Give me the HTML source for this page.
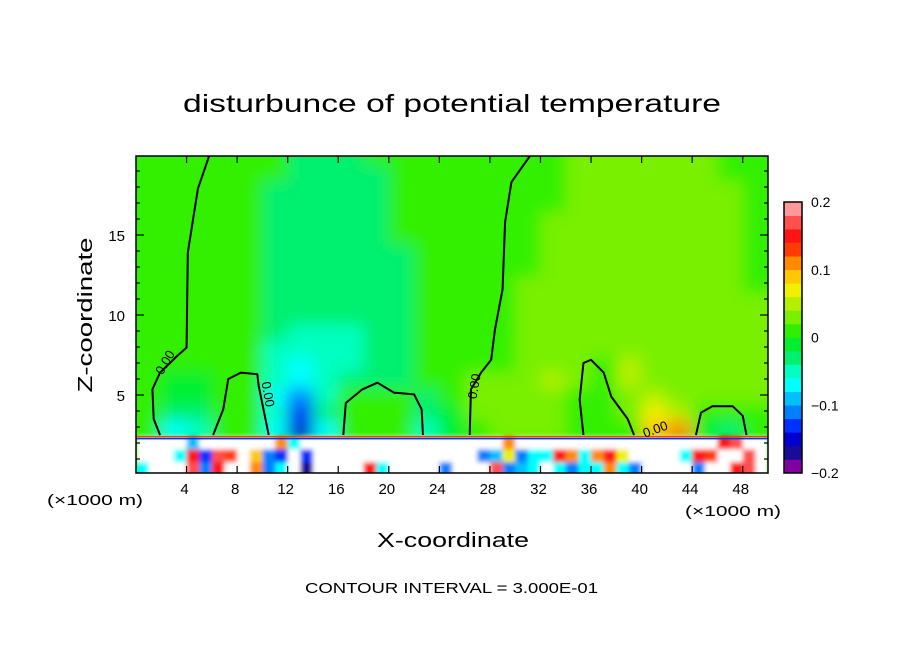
<!DOCTYPE html>
<html><head><meta charset="utf-8">
<style>
html,body{margin:0;padding:0;background:#fff;}
svg{display:block;font-family:"Liberation Sans",sans-serif;}
</style></head>
<body>
<svg id="chart" width="904" height="654" viewBox="0 0 904 654" xmlns="http://www.w3.org/2000/svg">
<defs>
<clipPath id="plotclip"><rect x="136" y="156" width="632" height="317"/></clipPath>
<filter id="smooth" x="-5%" y="-5%" width="110%" height="110%"><feGaussianBlur stdDeviation="8"/></filter>
<filter id="smooth2"><feGaussianBlur stdDeviation="2.5"/></filter>
</defs>
<text x="452" y="112" text-anchor="middle" font-size="25" textLength="538" lengthAdjust="spacingAndGlyphs">disturbunce of potential temperature</text>
<g id="plot" clip-path="url(#plotclip)"></g>
<g id="contours" clip-path="url(#plotclip)"></g>
<rect x="136" y="156" width="632" height="317" fill="none" stroke="#000" stroke-width="1.5"/>
<g id="axes"></g>
<g id="cbar"></g>
<text transform="translate(92,315) rotate(-90)" text-anchor="middle" font-size="20" textLength="155" lengthAdjust="spacingAndGlyphs">Z-coordinate</text>
<text x="453" y="547" text-anchor="middle" font-size="20" textLength="152" lengthAdjust="spacingAndGlyphs">X-coordinate</text>
<text x="47" y="505" font-size="15" textLength="96" lengthAdjust="spacingAndGlyphs">(×1000 m)</text>
<text x="685" y="516" font-size="15" textLength="96" lengthAdjust="spacingAndGlyphs">(×1000 m)</text>
<text x="305" y="593" font-size="15" textLength="293" lengthAdjust="spacingAndGlyphs">CONTOUR INTERVAL = 3.000E-01</text>
</svg>
<script>
// ---- data ----
const colorLevels = ["#8000a0","#1a0a98","#0000d0","#0030ff","#0080ff","#00c0ff","#00ffff","#00ffc0","#00f070","#00f030","#30f000","#78f000","#b4f000","#f0f000","#ffc800","#ff8c00","#ff3c00","#ff1414","#ff5050","#ff9898"];
const cbarTicks = [0.2, 0.1, 0, -0.1, -0.2];
const cbarTickLabels = ["0.2","0.1","0","\u22120.1","\u22120.2"];
const xTicks = [4,8,12,16,20,24,28,32,36,40,44,48];
const yTicks = [5,10,15];
// upper field: 25 columns (2 km), rows of 1 km; codes = colour level index (0-9,a-j)
const upperX0 = 0, upperDx = 2, upperZTop = 20.4, upperDz = 1;
const upperRows = [
"aaaaaa888aaaaaaaabbbbbbaa",
"aaaaaa8888aaaaaaabbbbbbaa",
"aaaaa88888aaaaaaabbbbbbba",
"aaaaa88888aaaaaaabbbbbbba",
"aaaaa88888aaaaaabbbbbbbba",
"aaaaa88888aaaaaabbbbbbbba",
"aaaaa888888aaaaabbbbbbbba",
"aaaaa888888aaaaabbbbbbbba",
"aaaaa888888aaaabbbbbbbbba",
"aaaaa888888aaaabbbbbbbbbb",
"aaaaa888888aaaabbbbbbbbbb",
"aaaaa877788aaaabbbbbbbbbb",
"aaaaa777788aaaabbbbbbbbbb",
"aaaaa767788aaaabbbacbbbbb",
"a99aa767888aabbbcbacbbbbb",
"a99aa647aaa8abbbbaabcbbbb",
"a88aa738aaa89bbbbaabdcaaa",
"a67aa626aaa79abbbaaaef98a"
];
// lower field: 50 columns (1 km), 3 rows of 0.8 km; 'w' = outside colour range (white)
const lowerX0 = 0, lowerDx = 1, lowerZTop = 2.4, lowerDz = 0.8;
const lowerRows = [
"wwww5wwwwwwf6wwwwwwwwwwwwwwwwfwwwwwwwwwwwwwwwwhiww",
"www6h3igwe43w3wwwwwwwwwwwww45d466hf6fhdwwww6hgwwiw",
"6wwwi4hwwf46w1wwwwh6wwww4wwwi456w6466f64wwww4wwhiw"
];
// zero contours (x km, z km)
const c1x=[5.9,4.9,4.1,4.0,3.2,1.9,1.3,1.4,1.9], c1z=[20.2,17.9,13.9,7.96,7.4,6.4,5.35,3.5,2.5];
const c2x=[6.1,6.9,7.3,8.3,9.6,9.7,10.5], c2z=[2.5,4.1,6.0,6.4,6.3,5.6,2.5];
const c3x=[16.4,16.6,17.9,19.1,20.4,22.0,22.6,22.7], c3z=[2.5,4.5,5.35,5.77,5.15,5.04,4.1,2.5];
const c4x=[31.4,29.7,29.2,29.0,28.4,28.1,27.3,26.5,26.4], c4z=[20.2,18.3,15.8,11.6,9.1,7.2,6.4,5.35,2.5];
const c5x=[35.4,35.1,35.4,36.0,37.0,37.6,38.9,39.4], c5z=[2.5,4.7,7.0,7.2,6.4,4.9,3.5,2.5];
const c6x=[44.3,44.7,45.6,47.2,48.0,48.3], c6z=[2.5,3.9,4.3,4.3,3.7,2.5];
const contourLabels = [[2.6,6.9,-60],[10.1,5.0,80],[27.1,5.5,-80],[41.2,2.6,-20]];

// ---- scales ----
const X0=136, X1=768, PXZ=16;
const sx = x => X0 + x/50*(X1-X0);
const sz = z => 475 - z*PXZ;
const NS="http://www.w3.org/2000/svg";
function mk(tag, attrs, parent){const e=document.createElementNS(NS,tag);for(const k in attrs)e.setAttribute(k,attrs[k]);parent.appendChild(e);return e;}
function codeVal(ch){ if(ch==='w') return 0.5; const i=parseInt(ch,20); return -0.2+0.02*i+0.01; }
function valColor(v){ if(v>0.2||v<-0.2) return "#ffffff"; let i=Math.floor((v+0.2)/0.02); i=Math.max(0,Math.min(19,i)); return colorLevels[i]; }

const plot=document.getElementById('plot');
mk('rect',{x:136,y:156,width:632,height:317,fill:colorLevels[10]},plot);
const up=mk('g',{filter:'url(#smooth)'},plot);
upperRows.forEach((row,r)=>{
  for(let c=0;c<row.length;c++){
    const v=codeVal(row[c]);
    const x0=upperX0+c*upperDx, zt=upperZTop-r*upperDz;
    let xa=sx(x0), xb=sx(x0+upperDx), ya=sz(zt), yb=sz(zt-upperDz);
    if(c===0) xa-=30; if(c===row.length-1) xb+=30; if(r===0) ya-=30;
    if(r===upperRows.length-1) yb+=6;
    const cell=mk('rect',{x:xa,y:ya,width:xb-xa+0.5,height:yb-ya+0.5,fill:valColor(v)},up);
    
    
  }
});
const lo=mk('g',{filter:'url(#smooth2)'},plot);
lowerRows.forEach((row,r)=>{
  for(let c=0;c<row.length;c++){
    const v=codeVal(row[c]);
    const x0=lowerX0+c*lowerDx, zt=lowerZTop-r*lowerDz;
    let xa=sx(x0), xb=sx(x0+lowerDx), ya=sz(zt), yb=sz(zt-lowerDz);
    if(r===2) yb+=5;
    const cell=mk('rect',{x:xa,y:ya,width:xb-xa+0.5,height:yb-ya+0.5,fill:valColor(v)},lo);
    
    
  }
});
mk('line',{x1:136,x2:768,y1:sz(2.4),y2:sz(2.4),stroke:'#ff3c00','stroke-width':1.5},plot);
mk('line',{x1:136,x2:768,y1:sz(2.4)+2,y2:sz(2.4)+2,stroke:'#0030ff','stroke-width':1.5},plot);

const cg=document.getElementById('contours');
[[c1x,c1z],[c2x,c2z],[c3x,c3z],[c4x,c4z],[c5x,c5z],[c6x,c6z]].forEach(([xs,zs])=>{
  const p=mk('polyline',{points:xs.map((x,i)=>sx(x)+','+sz(zs[i])).join(' '),fill:'none',stroke:'#000','stroke-width':2,'stroke-linejoin':'round'},cg);
  
  
});
contourLabels.forEach(([x,z,a])=>{
  const t=mk('text',{x:sx(x),y:sz(z),'font-size':13,'text-anchor':'middle',transform:`rotate(${a},${sx(x)},${sz(z)})`},cg);
  t.textContent='0.00';
  
  
});

const ax=document.getElementById('axes');
xTicks.forEach(v=>{
  mk('line',{x1:sx(v),x2:sx(v),y1:473,y2:466,stroke:'#000','stroke-width':1.2},ax);
  mk('line',{x1:sx(v),x2:sx(v),y1:156,y2:163,stroke:'#000','stroke-width':1.2},ax);
  const t=mk('text',{x:sx(v)-2,y:494,'font-size':15,'text-anchor':'middle'},ax);
  t.textContent=String(v);
  
  
});
for(let z=1;z<20;z++){
  const L=(z%5===0)?8:4;
  mk('line',{x1:136,x2:136+L,y1:sz(z),y2:sz(z),stroke:'#000','stroke-width':1.2},ax);
  mk('line',{x1:768,x2:768-L,y1:sz(z),y2:sz(z),stroke:'#000','stroke-width':1.2},ax);
}
yTicks.forEach(v=>{
  const t=mk('text',{x:125,y:sz(v)+6,'font-size':15,'text-anchor':'end'},ax);
  t.textContent=String(v);
  
  
});

const cb=document.getElementById('cbar');
const CB0=202, CB1=473, bh=(CB1-CB0)/colorLevels.length;
colorLevels.forEach((col,i)=>{
  const r=mk('rect',{x:784,y:CB1-(i+1)*bh,width:18,height:bh+0.3,fill:col},cb);
  
  
});
mk('rect',{x:784,y:CB0,width:18,height:CB1-CB0,fill:'none',stroke:'#000','stroke-width':1.5},cb);
cbarTicks.forEach((v,i)=>{
  const y=CB1-(v+0.2)/0.4*(CB1-CB0);
  const t=mk('text',{x:811,y:y+5,'font-size':14},cb);
  t.textContent=cbarTickLabels[i];
  
  
});
</script>
</body></html>
